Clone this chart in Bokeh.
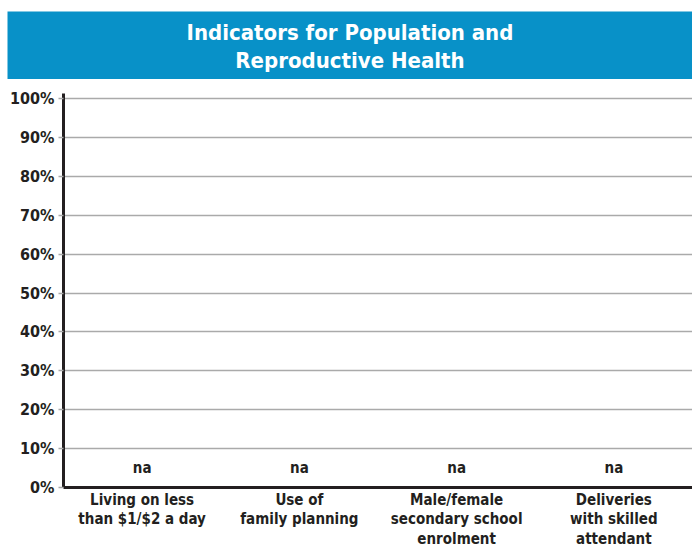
from bokeh.plotting import figure
from bokeh.layouts import column, row
from bokeh.models import ColumnDataSource, FactorRange, Range1d, FixedTicker, Spacer
from bokeh.core.properties import value
from bokeh.embed import file_html
from bokeh.resources import INLINE

title_text = "Indicators for Population and\nReproductive Health"
categories = ["Living on less\nthan $1/$2 a day", "Use of\nfamily planning",
              "Male/female\nsecondary school\nenrolment", "Deliveries\nwith skilled\nattendant"]
values = [None, None, None, None]
value_labels = ["na", "na", "na", "na"]
y_ticks = [0, 10, 20, 30, 40, 50, 60, 70, 80, 90, 100]

FONT = "DejaVu Sans Condensed"
BLUE = "#0891c8"
DARK = "#231f20"

# banner
b = figure(width=685, height=68, output_backend="svg", toolbar_location=None,
           x_range=Range1d(0, 1), y_range=Range1d(0, 1),
           x_axis_location=None, y_axis_location=None,
           min_border_top=0, min_border_bottom=0, min_border_left=0, min_border_right=0)
b.grid.visible = False
b.outline_line_color = None
b.background_fill_color = BLUE
b.border_fill_color = BLUE
b.text(x=[0.5], y=[0.48], text=[title_text], text_align="center", text_baseline="middle",
       text_font=value(FONT), text_font_style="bold", text_font_size="22px",
       text_color="white", text_line_height=1.12)

# chart
p = figure(width=692, height=472, output_backend="svg", toolbar_location=None,
           x_range=FactorRange(*categories, range_padding=0), y_range=Range1d(0, 101.3),
           min_border_top=14, min_border_left=63, min_border_right=0, min_border_bottom=0)
p.outline_line_color = None
p.xgrid.visible = False
p.ygrid.grid_line_color = "#aaaaaa"
p.ygrid.grid_line_width = 1.5
p.ygrid.ticker = FixedTicker(ticks=y_ticks)

src = ColumnDataSource(dict(cat=categories, val=[0 if v is None else v for v in values],
                            lab=value_labels, ly=[5] * len(categories)))
p.vbar(x="cat", top="val", width=0.6, source=src, fill_color=BLUE, line_color=None)
p.text(x="cat", y="ly", text="lab", source=src, text_align="center", text_baseline="middle",
       text_font=value(FONT), text_font_style="bold", text_font_size="15px", text_color=DARK)

p.yaxis.ticker = FixedTicker(ticks=y_ticks)
p.yaxis.major_label_overrides = {t: f"{t}%" for t in y_ticks}
p.yaxis.axis_line_width = 3
p.yaxis.axis_line_color = DARK
p.yaxis.major_tick_line_color = "#aaaaaa"
p.yaxis.major_tick_line_width = 1.5
p.yaxis.major_tick_out = 5
p.yaxis.major_tick_in = 0
p.yaxis.minor_tick_line_color = None
p.yaxis.major_label_standoff = 4
p.yaxis.major_label_text_font = FONT
p.yaxis.major_label_text_font_style = "bold"
p.yaxis.major_label_text_font_size = "16px"
p.yaxis.major_label_text_color = DARK

p.xaxis.axis_line_width = 3
p.xaxis.axis_line_color = DARK
p.xaxis.major_tick_line_color = None
p.xaxis.minor_tick_line_color = None
p.xaxis.major_label_standoff = -3
p.xaxis.major_label_text_font = FONT
p.xaxis.major_label_text_font_style = "bold"
p.xaxis.major_label_text_font_size = "15px"
p.xaxis.major_label_text_color = DARK
p.xaxis.major_label_text_line_height = 1.1

layout = column(Spacer(height=11), row(Spacer(width=7), b), p, spacing=0)
open("out.html", "w").write(file_html(layout, INLINE))
